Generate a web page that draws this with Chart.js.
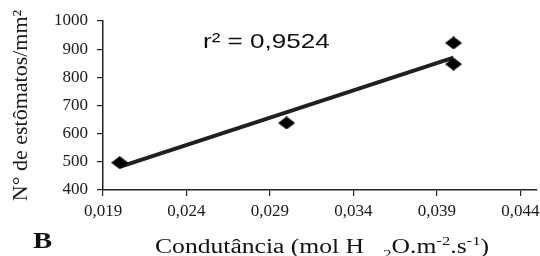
<!DOCTYPE html>
<html>
<head>
<meta charset="utf-8">
<script src="https://cdn.jsdelivr.net/npm/chart.js@4.4.1/dist/chart.umd.min.js"></script>
<style>
  html, body { margin: 0; padding: 0; background: #fff; }
  #wrap { width: 540px; height: 256px; }
</style>
</head>
<body>
<div id="wrap"><canvas id="grafico" width="540" height="256"></canvas></div>
<script>
/* ============================
   Dados
============================ */
const condutancia = [0.020, 0.030, 0.040, 0.040];
const estomatos = [497, 638, 922, 847];
const tendenciaX = [0.020, 0.040];
const tendenciaY = [482, 870];
const xTicks = [0.019, 0.024, 0.029, 0.034, 0.039, 0.044];
const yMin = 400, yMax = 1000, yStep = 100;
const r2Texto = "r\u00b2 = 0,9524";

/* ============================
   Utils
============================ */
const serif = "'Liberation Serif', 'Times New Roman', serif";
const sans = "'Liberation Sans', Arial, sans-serif";
const cor = "#1a1a1a";

function losango(w, h) {
    const c = document.createElement("canvas");
    c.width = w; c.height = h;
    const g = c.getContext("2d");
    g.fillStyle = "#000";
    g.beginPath();
    g.moveTo(w / 2, 0); g.lineTo(w, h / 2); g.lineTo(w / 2, h); g.lineTo(0, h / 2);
    g.closePath(); g.fill();
    return c;
}

// texto esticado na horizontal (a figura original e mais larga)
function textoLargo(ctx, t, x, y, sx) {
    ctx.save();
    ctx.translate(x, y);
    ctx.scale(sx, 1);
    ctx.fillText(t, 0, 0);
    ctx.restore();
}

// textos extras: r², letra B e titulo do eixo x com sub/sobrescritos
const extras = {
    id: "extras",
    afterDraw(chart) {
        const ctx = chart.ctx;
        const sx = 1.28;
        ctx.save();
        ctx.fillStyle = "#111";
        ctx.textBaseline = "alphabetic";
        ctx.textAlign = "left";

        ctx.font = "21px " + sans;
        textoLargo(ctx, r2Texto, 203, 48, 1.24);

        ctx.font = "bold 23px " + serif;
        textoLargo(ctx, "B", 33, 248, 1.25);

        const partes = [
            ["Condutância (mol H   ", 0], ["2", 1], ["O.m", 0], ["-2", -1], [".s", 0], ["-1", -1], [")", 0]
        ];
        const grande = "20px " + serif, pequeno = "13px " + serif;
        let total = 0;
        partes.forEach(([t, k]) => { ctx.font = k ? pequeno : grande; total += ctx.measureText(t).width * sx; });
        let x = 322 - total / 2;
        partes.forEach(([t, k]) => {
            ctx.font = k ? pequeno : grande;
            const dy = k === 1 ? 5 : k === -1 ? -8 : 0;
            textoLargo(ctx, t, x, 253 + dy, sx);
            x += ctx.measureText(t).width * sx;
        });
        ctx.restore();
    }
};

/* ============================
   Grafico
============================ */
new Chart(document.getElementById("grafico"), {
    type: "scatter",
    data: {
        datasets: [
            {
                label: "Pontos",
                data: condutancia.map((v, i) => ({ x: v, y: estomatos[i] })),
                pointStyle: losango(17, 13),
                pointRadius: 8,
                backgroundColor: "#000",
                order: 1
            },
            {
                label: "Tendência",
                type: "line",
                data: tendenciaX.map((v, i) => ({ x: v, y: tendenciaY[i] })),
                borderColor: "#231f20",
                borderWidth: 4,
                pointRadius: 0,
                fill: false,
                order: 2
            }
        ]
    },
    options: {
        responsive: false,
        animation: false,
        layout: { autoPadding: false, padding: { top: 21, right: 3, left: 0, bottom: 0 } },
        plugins: { legend: { display: false }, tooltip: { enabled: false } },
        scales: {
            x: {
                type: "linear",
                min: 0.019,
                max: 0.045,
                afterBuildTicks: (s) => { s.ticks = xTicks.map((v) => ({ value: v })); },
                afterFit: (s) => { s.height = 66; s.paddingLeft = 0; s.paddingRight = 0; },
                ticks: {
                    color: cor,
                    font: { family: serif, size: 17 },
                    padding: 5,
                    maxRotation: 0,
                    callback: (v) => Number(v).toFixed(3).replace(".", ",")
                },
                grid: { drawOnChartArea: false, drawTicks: true, tickLength: 6, color: "#222", lineWidth: 1.2 },
                border: { color: "#222", width: 1.5 }
            },
            y: {
                min: yMin,
                max: yMax,
                afterFit: (s) => { s.width = 103; s.paddingTop = 0; s.paddingBottom = 0; },
                ticks: {
                    stepSize: yStep,
                    color: cor,
                    font: { family: serif, size: 17 },
                    padding: 9,
                    callback: (v) => String(v)
                },
                title: {
                    display: true,
                    text: "N° de estômatos/mm²",
                    color: cor,
                    font: { family: serif, size: 22 },
                    padding: { top: 8, bottom: 0 }
                },
                grid: { drawOnChartArea: false, drawTicks: true, tickLength: 6, color: "#222", lineWidth: 1.2 },
                border: { color: "#222", width: 1.5 }
            }
        }
    },
    plugins: [extras]
});
</script>
</body>
</html>
